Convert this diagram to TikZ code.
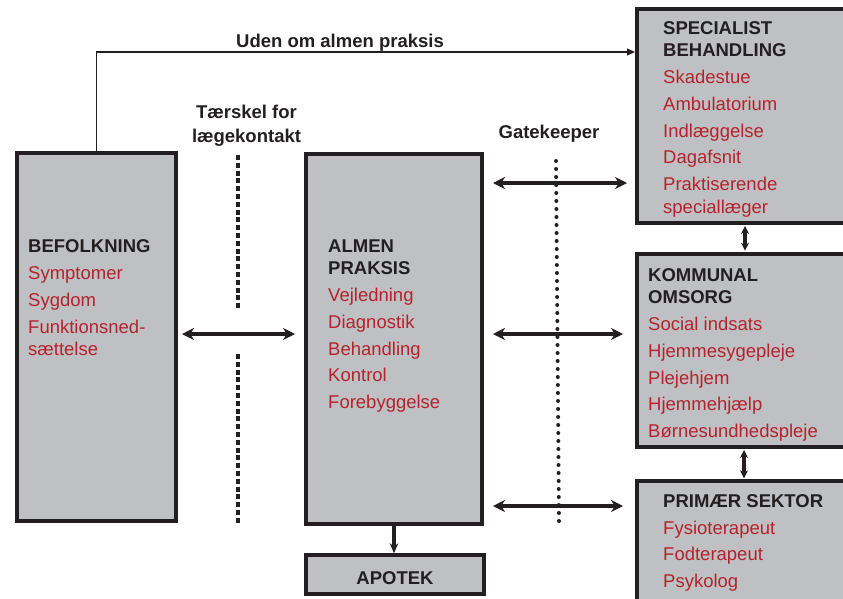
\documentclass[tikz,border=0pt]{standalone}
\usepackage{fontspec}
\setmainfont{Liberation Sans}
\usetikzlibrary{arrows.meta}
\definecolor{boxgray}{RGB}{191,192,195}
\definecolor{boxline}{RGB}{35,31,32}
\definecolor{itemred}{RGB}{180,35,45}
\newcommand{\boxhead}[1]{\textcolor{boxline}{\textbf{#1}}}
\newcommand{\firststrut}{\rule{0pt}{15pt}}
\begin{document}
\begin{tikzpicture}[x=1pt,y=-1pt,
  box/.style={draw=boxline, fill=boxgray, line width=4pt, inner sep=0pt},
  txt/.style={anchor=north west, inner sep=0pt, align=left,
    font=\fontsize{18.5}{22.5}\selectfont, text=itemred},
  lbl/.style={inner sep=0pt, text=boxline,
    font=\fontsize{18.5}{22.5}\selectfont\bfseries},
  dbl/.style={line width=3.3pt, draw=boxline,
    {Stealth[length=12pt,width=12pt]}-{Stealth[length=12pt,width=12pt]}},
  vdbl/.style={line width=3.3pt, draw=boxline,
    {Stealth[length=8pt,width=8pt]}-{Stealth[length=8pt,width=8pt]}},
  down/.style={line width=3.3pt, draw=boxline, -{Stealth[length=10pt,width=8.5pt]}},
  thinarrow/.style={line width=1.2pt, draw=boxline, -{Triangle[length=8pt,width=7pt]}},
  sqdots/.style={line width=4pt, draw=boxline, dash pattern=on 5pt off 2.8pt},
  rddots/.style={line width=4pt, draw=boxline, line cap=round, dash pattern=on 0pt off 8pt}
]
\useasboundingbox (0,0) rectangle (843,598);
\clip (0,0) rectangle (843,598);

% boxes
\node[box, minimum width=158.7pt, minimum height=368.6pt] (bef) at (96.35,337) {};
\node[box, minimum width=176pt, minimum height=369.7pt] (alm) at (394,338.85) {};
\node[box, minimum width=178pt, minimum height=38.7pt] (apo) at (395,574.65) {};
\node[box, minimum width=216pt, minimum height=214.3pt] (spec) at (745,115.85) {};
\node[box, minimum width=216pt, minimum height=193.3pt] (kom) at (745,350.35) {};
\node[box, minimum width=216pt, minimum height=200pt] (pri) at (745,581.3) {};

% box texts
\node[txt] (beftxt) at (28,237) {\firststrut\boxhead{BEFOLKNING}\\[4.5pt]
  Symptomer\\[4.5pt] Sygdom\\[4.5pt] Funktionsned-\\sættelse};
\node[txt] (almtxt) at (328,237) {\firststrut\boxhead{ALMEN}\\\boxhead{PRAKSIS}\\[4.3pt]
  Vejledning\\[4.3pt] Diagnostik\\[4.3pt] Behandling\\[4.3pt] Kontrol\\[4.3pt] Forebyggelse};
\node[lbl, anchor=base] (apotxt) at (395,584) {APOTEK};
\node[txt] (spectxt) at (663,19) {\firststrut\boxhead{SPECIALIST}\\\boxhead{BEHANDLING}\\[4.3pt]
  Skadestue\\[4.3pt] Ambulatorium\\[4.3pt] Indlæggelse\\[4.3pt] Dagafsnit\\[4.3pt]
  Praktiserende\\speciallæger};
\node[txt] (komtxt) at (648,266) {\firststrut\boxhead{KOMMUNAL}\\\boxhead{OMSORG}\\[4.3pt]
  Social indsats\\[4.3pt] Hjemmesygepleje\\[4.3pt] Plejehjem\\[4.3pt] Hjemmehjælp\\[4.3pt]
  Børnesundhedspleje};
\node[txt] (pritxt) at (663,492) {\firststrut\boxhead{PRIMÆR SEKTOR}\\[4.3pt]
  Fysioterapeut\\[4.3pt] Fodterapeut\\[4.3pt] Psykolog};

% labels
\node[lbl, anchor=base] (uden) at (340,47) {Uden om almen praksis};
\node[lbl, anchor=north, align=center] (taerskel) at (246.5,103) {\firststrut Tærskel for\\[1.5pt]lægekontakt};
\node[lbl, anchor=base] (gate) at (549,138) {Gatekeeper};

% dotted lines
\coordinate (d1a) at (238,155);
\coordinate (d1b) at (238,308);
\coordinate (d1c) at (238,354);
\coordinate (d1d) at (238,524);
\draw[sqdots] (d1a) -- (d1b);
\draw[sqdots] (d1c) -- (d1d);
\coordinate (d2a) at (556,161);
\coordinate (d2b) at (559,522);
\draw[rddots] (d2a) -- (d2b);

% connectors
\draw[thinarrow] (bef.north) |- (spec.west |- 0,52);
\draw[dbl, shorten <=4.3pt, shorten >=9pt] (bef.east |- 0,334) -- (alm.west |- 0,334);
\draw[dbl, shorten <=9pt, shorten >=8pt] (alm.east |- 0,183) -- (spec.west |- 0,183);
\draw[dbl, shorten <=9pt, shorten >=12pt] (alm.east |- 0,334) -- (kom.west |- 0,334);
\draw[dbl, shorten <=9pt, shorten >=12pt] (alm.east |- 0,506) -- (pri.west |- 0,506);
\draw[vdbl, shorten <=1pt, shorten >=1pt] (spec.south) -- (kom.north);
\draw[vdbl, shorten <=1pt, shorten >=1pt] ([xshift=-1pt]kom.south) -- ([xshift=-1pt]pri.north);
\draw[down] (alm.south) -- (alm.south |- apo.north);
\end{tikzpicture}
\end{document}
